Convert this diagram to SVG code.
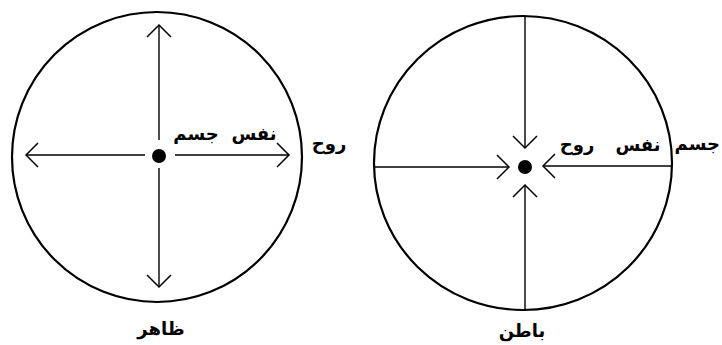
<svg xmlns="http://www.w3.org/2000/svg" width="722" height="345" viewBox="0 0 722 345">
  <style>
    .ring { fill: none; stroke: #000; stroke-width: 2.2; }
    .dot { fill: #000; }
    .conn { stroke: #000; stroke-width: 1.4; fill: none; marker-end: url(#chev); }
    .lbl { font-family: "DejaVu Sans", "Noto Sans", sans-serif; font-size: 18px; font-weight: bold; fill: #000; text-anchor: middle; }
  </style>
  <defs>
    <marker id="chev" viewBox="-1 -13 14 26" refX="12" refY="0" markerWidth="14" markerHeight="26" markerUnits="userSpaceOnUse" orient="auto" overflow="visible">
      <path d="M0,-12 L12,0 L0,12" fill="none" stroke="#000" stroke-width="1.5"/>
    </marker>
  </defs>
  <rect width="722" height="345" fill="#fff"/>

  <g id="zahir">
    <circle class="ring" cx="157" cy="157" r="145"/>
    <circle class="dot" cx="159" cy="156" r="7"/>
    <text class="lbl" x="196" y="140">جسم</text>
    <text class="lbl" x="254" y="140">نفس</text>
    <text class="lbl" x="329" y="150">روح</text>
    <text class="lbl" x="161" y="335">ظاهر</text>
  </g>

  <g id="batin">
    <ellipse class="ring" cx="523" cy="163" rx="149" ry="147"/>
    <circle class="dot" cx="525" cy="167" r="7"/>
    <text class="lbl" x="577" y="151">روح</text>
    <text class="lbl" x="638" y="151">نفس</text>
    <text class="lbl" x="720" y="150" style="text-anchor:end">جسم</text>
    <text class="lbl" x="522" y="337">باطن</text>
  </g>

  <g id="connectors">
    <line class="conn" x1="159" y1="140" x2="159" y2="25"/>
    <line class="conn" x1="159" y1="168" x2="159" y2="287"/>
    <line class="conn" x1="145" y1="155" x2="26" y2="155"/>
    <line class="conn" x1="175" y1="155" x2="289" y2="155"/>

    <line class="conn" x1="525" y1="16" x2="525" y2="148"/>
    <line class="conn" x1="525" y1="310" x2="525" y2="185"/>
    <line class="conn" x1="374" y1="167" x2="509" y2="167"/>
    <line class="conn" x1="672" y1="166" x2="543" y2="166"/>
  </g>
</svg>
